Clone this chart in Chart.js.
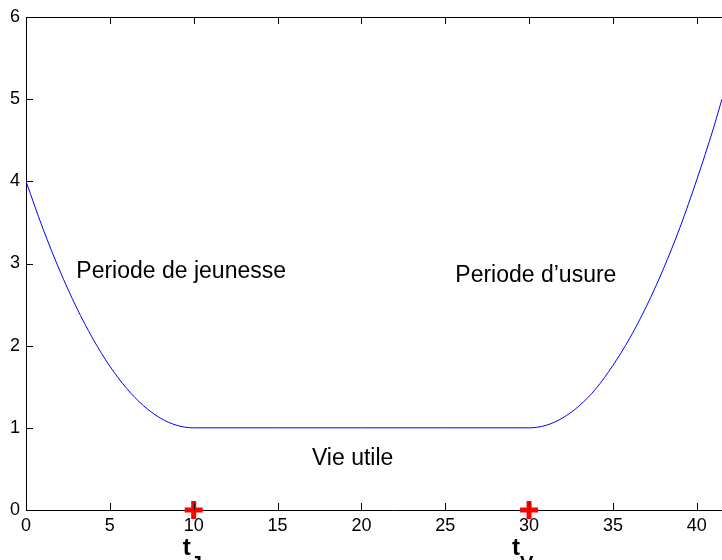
<!DOCTYPE html>
<html>
<head>
<meta charset="utf-8">
<script src="https://cdn.jsdelivr.net/npm/chart.js@4"></script>
<style>
  html, body { margin: 0; padding: 0; background: #fff; overflow: hidden; }
  /* the plot box runs past the right edge of the window, as in the original */
  #myChart { position: absolute; left: 0; top: 0; }
</style>
</head>
<body>
<canvas id="myChart" width="760" height="560"></canvas>
<script>
// bathtub curve
const timeX = [0, 1, 2, 3, 4, 5, 6, 7, 8, 9, 10, 15, 20, 25, 30, 31, 32, 33, 34, 35, 36, 37, 38, 39, 40, 41, 41.5];
const rateY = [4.0, 3.43, 2.92, 2.47, 2.08, 1.75, 1.48, 1.27, 1.12, 1.03, 1.0, 1.0, 1.0, 1.0, 1.0, 1.03, 1.12, 1.27, 1.48, 1.76, 2.09, 2.48, 2.93, 3.44, 4.02, 4.65, 5.0];

// red markers on the time axis
const markX = [10, 30];
const markY = [0, 0];
const markNames = ["J", "V"];

const xTicks = [0, 5, 10, 15, 20, 25, 30, 35, 40];
const yTicks = [0, 1, 2, 3, 4, 5, 6];

// text annotations: [x, y, text]
const notes = [
  [3, 2.9, "Periode de jeunesse"],
  [25.6, 2.85, "Periode d\u2019usure"],
  [17.05, 0.63, "Vie utile"],
];

const FONT = "'Liberation Sans', Arial, Helvetica, sans-serif";

// matlab style frame + inward ticks + texts
const framePlugin = {
  id: "frame",
  afterDraw(chart) {
    const ctx = chart.ctx;
    const area = chart.chartArea;
    const xs = chart.scales.x;
    const ys = chart.scales.y;
    ctx.save();
    ctx.strokeStyle = "#000";
    ctx.lineWidth = 1;
    ctx.beginPath();
    ctx.moveTo(area.left, area.top + 0.5);
    ctx.lineTo(area.right, area.top + 0.5);
    xTicks.forEach((v) => {
      const px = Math.round(xs.getPixelForValue(v)) + 0.5;
      ctx.moveTo(px, area.bottom);
      ctx.lineTo(px, area.bottom - 7);
      ctx.moveTo(px, area.top);
      ctx.lineTo(px, area.top + 7);
    });
    yTicks.forEach((v) => {
      const py = Math.round(ys.getPixelForValue(v)) + 0.5;
      ctx.moveTo(area.left, py);
      ctx.lineTo(area.left + 7, py);
    });
    ctx.stroke();

    ctx.fillStyle = "#000";
    ctx.font = "23px " + FONT;
    ctx.textAlign = "left";
    ctx.textBaseline = "middle";
    notes.forEach((n) => {
      ctx.fillText(n[2], xs.getPixelForValue(n[0]), ys.getPixelForValue(n[1]));
    });

    // t_J, t_V under the markers
    ctx.textBaseline = "alphabetic";
    markX.forEach((v, i) => {
      const px = xs.getPixelForValue(v);
      const shift = markNames[i] === "V" ? -17 : -11;
      ctx.font = "bold 24px " + FONT;
      ctx.fillText("t", px + shift, area.bottom + 45);
      const tw = ctx.measureText("t").width;
      ctx.font = "bold 20px " + FONT;
      ctx.fillText(markNames[i], px + shift + tw, area.bottom + 60);
    });
    ctx.restore();
  },
};

const config = {
  type: "scatter",
  data: {
    datasets: [
      {
        label: "taux",
        data: timeX.map((x, i) => ({ x: x, y: rateY[i] })),
        showLine: true,
        borderColor: "#0000ff",
        borderWidth: 1,
        pointRadius: 0,
        cubicInterpolationMode: "monotone",
        order: 2,
      },
      {
        label: "marks",
        data: markX.map((x, i) => ({ x: x, y: markY[i] })),
        showLine: false,
        pointStyle: "cross",
        pointRadius: 9,
        pointBorderWidth: 5,
        pointBorderColor: "#ff0000",
        pointBackgroundColor: "#ff0000",
        clip: false,
        order: 1,
      },
    ],
  },
  options: {
    responsive: false,
    animation: false,
    events: [],
    layout: { autoPadding: false, padding: { top: 17, right: 0, left: 0, bottom: 0 } },
    plugins: {
      legend: { display: false },
      tooltip: { enabled: false },
    },
    scales: {
      x: {
        type: "linear",
        min: 0,
        max: 43.77,
        afterBuildTicks: (scale) => {
          scale.ticks = xTicks.map((v) => ({ value: v }));
        },
        afterFit: (scale) => {
          scale.height = 50;
        },
        grid: { display: false, drawTicks: false, tickLength: 0 },
        border: { display: true, color: "#000", width: 1 },
        ticks: {
          color: "#000",
          font: { family: FONT, size: 18 },
          padding: 5,
          maxRotation: 0,
          autoSkip: false,
        },
      },
      y: {
        type: "linear",
        min: 0,
        max: 6,
        afterBuildTicks: (scale) => {
          scale.ticks = yTicks.map((v) => ({ value: v }));
        },
        afterFit: (scale) => {
          scale.width = 26;
        },
        grid: { display: false, drawTicks: false, tickLength: 0 },
        border: { display: true, color: "#000", width: 1 },
        ticks: {
          color: "#000",
          font: { family: FONT, size: 18 },
          padding: 6,
        },
      },
    },
  },
  plugins: [framePlugin],
};

const myChart = new Chart("myChart", config);
</script>
</body>
</html>
